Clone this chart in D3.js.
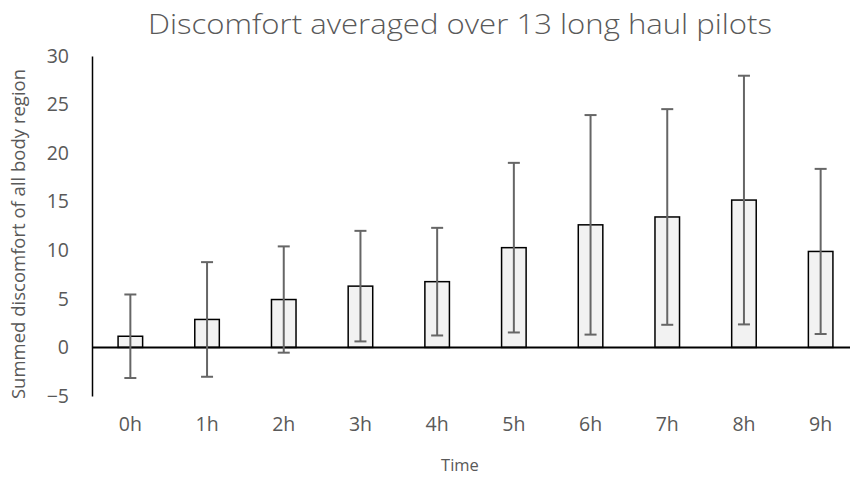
<!DOCTYPE html>
<html><head><meta charset="utf-8">
<script src="https://cdn.jsdelivr.net/npm/d3@7"></script>
<style>body{margin:0;background:#fff}svg{display:block}</style>
</head><body>
<svg id="c" width="850" height="479"></svg>
<script>
const categories = ["0h","1h","2h","3h","4h","5h","6h","7h","8h","9h"];
const means = [1.15, 2.88, 4.93, 6.31, 6.77, 10.27, 12.62, 13.43, 15.17, 9.88];
const sds = [4.3, 5.9, 5.47, 5.69, 5.54, 8.73, 11.3, 11.1, 12.8, 8.5];
const yTicks = [-5, 0, 5, 10, 15, 20, 25, 30];

const svg = d3.select("#c");
const font = "'Open Sans', 'Liberation Sans', sans-serif";
const grey = "#595959";
const x = d3.scaleBand().domain(categories).range([92, 859]).paddingInner(0.68).paddingOuter(0.34);
const y = d3.scaleLinear().domain([-5, 30]).range([396, 56]);

// title
svg.append("text").attr("x", 460).attr("y", 34).attr("text-anchor", "middle")
  .attr("font-family", font).attr("font-size", 27).attr("font-weight", 300).attr("fill", grey)
  .attr("textLength", 624).attr("lengthAdjust", "spacingAndGlyphs")
  .text("Discomfort averaged over 13 long haul pilots");

// y axis
const ya = svg.append("g").attr("transform", "translate(92,0)")
  .call(d3.axisLeft(y).tickValues(yTicks).tickSize(0).tickPadding(23).tickFormat(d3.format("d")));
ya.select(".domain").attr("stroke", "#000").attr("stroke-width", 1.5);
ya.selectAll("text").attr("font-family", font).attr("font-size", 19.5).attr("fill", grey);

// bars
svg.append("g").selectAll("rect").data(categories).join("rect")
  .attr("x", (d) => x(d)).attr("width", x.bandwidth())
  .attr("y", (d, i) => y(Math.max(0, means[i])))
  .attr("height", (d, i) => Math.abs(y(means[i]) - y(0)))
  .attr("fill", "#f2f2f2").attr("stroke", "#000").attr("stroke-width", 1.5);

// zero line
svg.append("line").attr("x1", 92).attr("x2", 859).attr("y1", y(0)).attr("y2", y(0))
  .attr("stroke", "#000").attr("stroke-width", 2);

// error bars
const eg = svg.append("g").attr("stroke", "#666").attr("stroke-width", 2);
categories.forEach((c, i) => {
  const cx = x(c) + x.bandwidth() / 2;
  const hi = y(means[i] + sds[i]), lo = y(means[i] - sds[i]);
  eg.append("line").attr("x1", cx).attr("x2", cx).attr("y1", hi).attr("y2", lo);
  eg.append("line").attr("x1", cx - 6).attr("x2", cx + 6).attr("y1", hi).attr("y2", hi);
  eg.append("line").attr("x1", cx - 6).attr("x2", cx + 6).attr("y1", lo).attr("y2", lo);
});

// x labels
const xa = svg.append("g").attr("transform", "translate(0,396)")
  .call(d3.axisBottom(x).tickSize(0).tickPadding(21));
xa.select(".domain").remove();
xa.selectAll("text").attr("font-family", font).attr("font-size", 19.5).attr("fill", grey);

// axis titles
svg.append("text").attr("x", 460).attr("y", 471).attr("text-anchor", "middle")
  .attr("font-family", font).attr("font-size", 16.5).attr("fill", grey).text("Time");
svg.append("text").attr("transform", "translate(25,234) rotate(-90)").attr("text-anchor", "middle")
  .attr("font-family", font).attr("font-size", 18.5).attr("fill", grey)
  .text("Summed discomfort of all body region");
</script>
</body></html>
